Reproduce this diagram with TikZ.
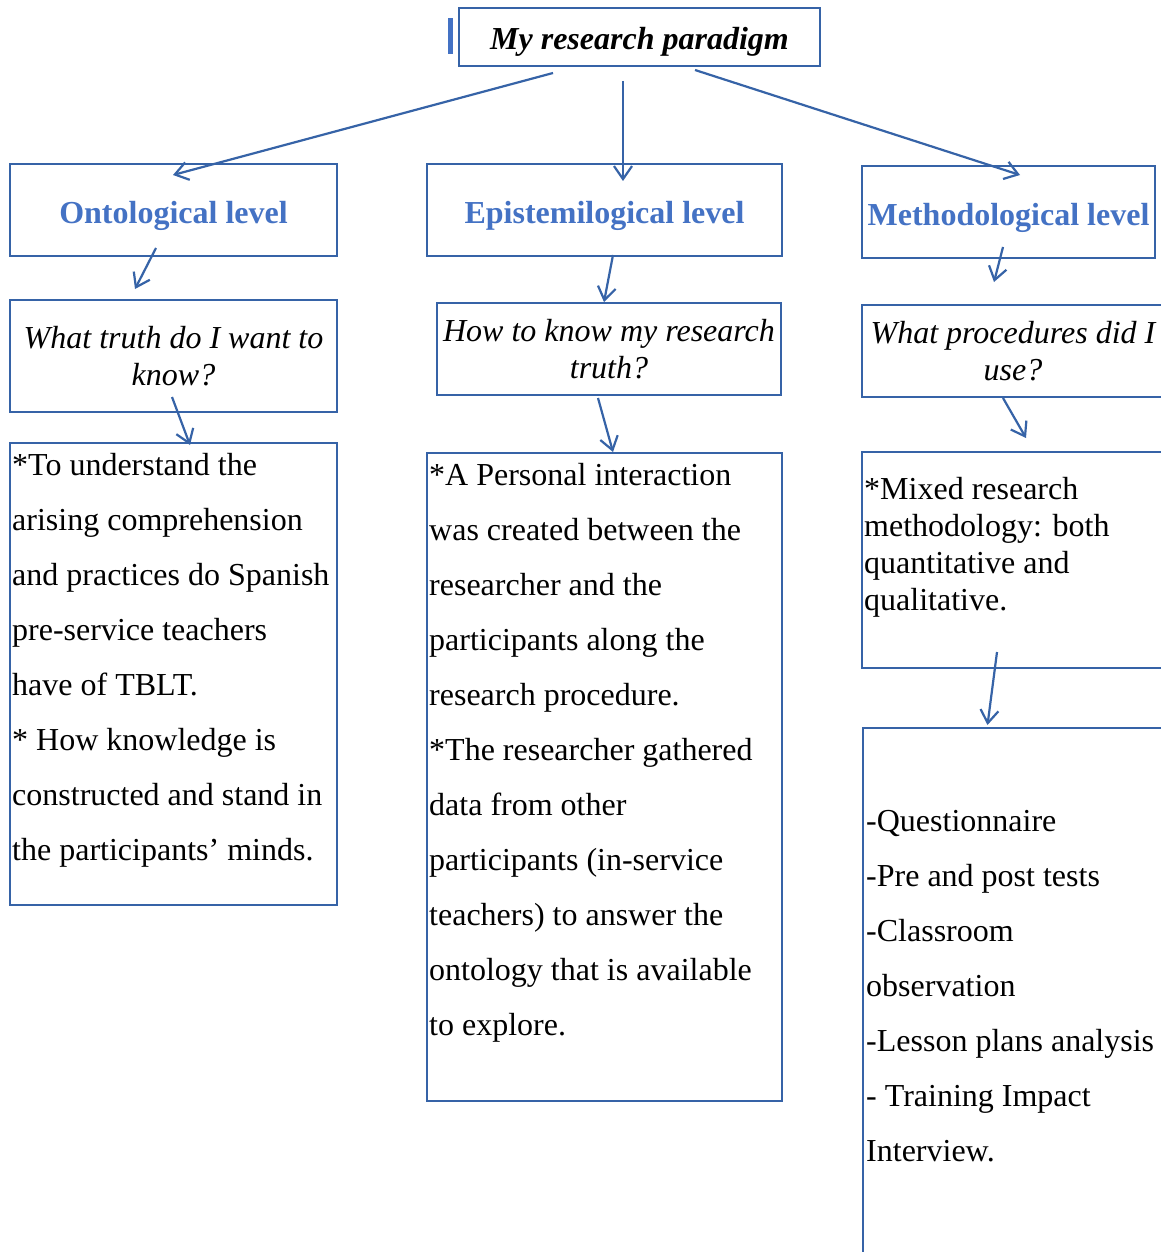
\documentclass[tikz,border=0pt]{standalone}
\usepackage{fontspec}
\setmainfont{Liberation Serif}
\usetikzlibrary{arrows.meta}
\definecolor{boxblue}{RGB}{54,99,167}
\definecolor{headblue}{RGB}{68,114,196}
\begin{document}
\begin{tikzpicture}[x=1pt,y=-1pt,
    box/.style={draw=boxblue,line width=2.5pt,inner sep=0pt,outer sep=0pt},
    head/.style={box,text=headblue,text height=26pt,text depth=0pt,
        font=\fontsize{32}{38}\selectfont\bfseries},
    quest/.style={box,align=center,font=\fontsize{32}{37}\selectfont\itshape},
    body/.style={inner sep=0pt,align=left,anchor=north west,font=\fontsize{32}{55}\selectfont},
    arr/.style={draw=boxblue,line width=2.2pt,-{Straight Barb[length=13pt,width=18pt]}}]
            \fill[white] (0,0) rectangle (1161,1252);
            \clip (0,0) rectangle (1161,1252);
            % top
            \fill[headblue] (448,18) rectangle (453,54);
            \node[box,minimum width=361,minimum height=58,text height=26pt,text depth=0pt,
                font=\fontsize{32}{38}\selectfont\bfseries\itshape]
                (title) at (639.5,37) {My research paradigm};
            % levels
            \node[head,minimum width=327,minimum height=92]
                (ont) at (173.5,210) {Ontological level};
            \node[head,minimum width=355,minimum height=92]
                (epi) at (604.5,210) {Epistemilogical level};
            \node[head,minimum width=293,minimum height=92]
                (met) at (1008.5,212) {Methodological level};
            % questions
            \node[quest,minimum width=327,minimum height=112]
                (q1) at (173.5,356) {What truth do I want to\\know?};
            \node[quest,minimum width=344,minimum height=92]
                (q2) at (609,349) {How to know my research\\truth?};
            \node[quest,minimum width=302,minimum height=92]
                (q3) at (1013,351) {What procedures did I\\use?};
            % answers
            \node[box,anchor=north west,minimum width=327,minimum height=462]
                (c1) at (10,443) {};
            \node[box,anchor=north west,minimum width=355,minimum height=648]
                (c2) at (427,453) {};
            \node[box,anchor=north west,minimum width=302,minimum height=216]
                (c3a) at (862,452) {};
            \node[box,anchor=north west,minimum width=302,minimum height=560]
                (c3b) at (863,728) {};
            \node[body] (c1txt) at ([shift={(2,10)}]c1.north west)
                {*To understand the\\arising comprehension\\and practices do Spanish\\
                 pre-service teachers\\have of TBLT.\\* How knowledge is\\
                 constructed and stand in\\the participants’ minds.};
            \node[body] (c2txt) at ([shift={(2,10)}]c2.north west)
                {*A Personal interaction\\was created between the\\researcher and the\\
                 participants along the\\research procedure.\\*The researcher gathered\\
                 data from other\\participants (in-service\\teachers) to answer the\\
                 ontology that is available\\to explore.};
            \node[body,font=\fontsize{32}{37}\selectfont] (c3atxt)
                at ([shift={(2,25)}]c3a.north west)
                {*Mixed research\\methodology: both\\quantitative and\\qualitative.};
            \node[body] (c3btxt) at ([shift={(3,82)}]c3b.north west)
                {-Questionnaire\\-Pre and post tests\\-Classroom\\observation\\
                 -Lesson plans analysis\\- Training Impact\\Interview.};
            % arrows
            \draw[arr] ([shift={(-86.5,7)}]title.south) -- ([shift={(-0.5,11)}]ont.north);
            \draw[arr] ([shift={(-16.5,15)}]title.south) -- ([shift={(18.5,17)}]epi.north);
            \draw[arr] ([shift={(55.5,4)}]title.south) -- ([shift={(11.5,9)}]met.north);
            \draw[arr] ([shift={(-17.5,-8)}]ont.south) -- ([shift={(-38.5,-11)}]q1.north);
            \draw[arr] ([shift={(-1.5,-15)}]q1.south) -- ([shift={(16.5,2)}]c1.north);
            \draw[arr] ([shift={(8.5,-1)}]epi.south) -- ([shift={(-5,-1)}]q2.north);
            \draw[arr] ([shift={(-11,3)}]q2.south) -- ([shift={(8.5,-1)}]c2.north);
            \draw[arr] ([shift={(-5.5,-11)}]met.south) -- ([shift={(-19,-23)}]q3.north);
            \draw[arr] ([shift={(-10,1)}]q3.south) -- ([shift={(13,-14)}]c3a.north);
            \draw[arr] ([shift={(-16,-16)}]c3a.south) -- ([shift={(-26.5,-3)}]c3b.north);
\end{tikzpicture}
\end{document}
